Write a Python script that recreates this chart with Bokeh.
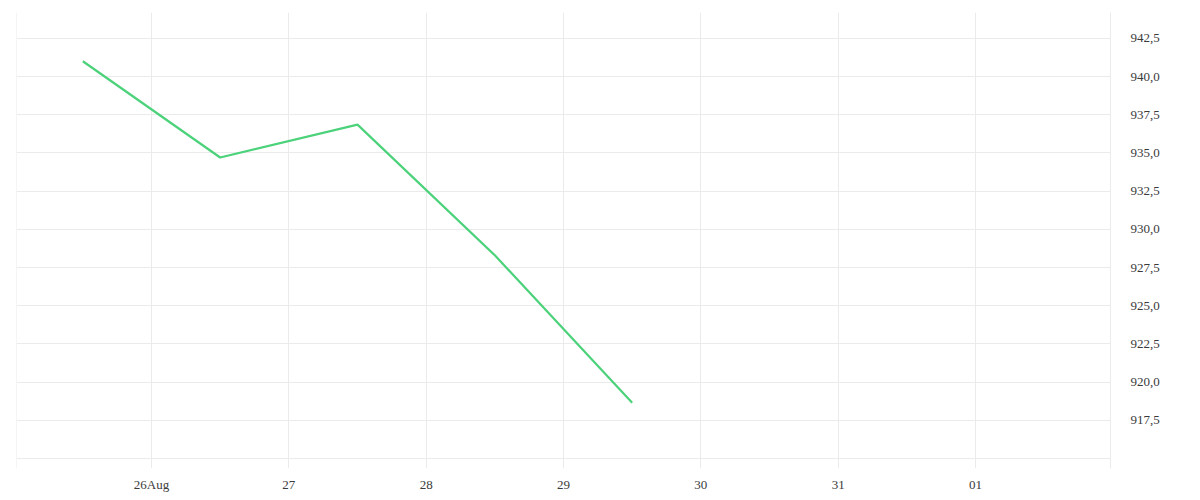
from datetime import datetime
from bokeh.plotting import figure
from bokeh.models import FixedTicker, Range1d, Span
from bokeh.embed import file_html
from bokeh.resources import INLINE

# ---- data ----
dates = ["2024-08-25 12:00", "2024-08-26 12:00", "2024-08-27 12:00",
         "2024-08-28 12:00", "2024-08-29 12:00"]
values = [941.0, 934.7, 936.85, 928.3, 918.65]

tick_dates = ["2024-08-26", "2024-08-27", "2024-08-28", "2024-08-29",
              "2024-08-30", "2024-08-31", "2024-09-01"]
tick_labels = ["26Aug", "27", "28", "29", "30", "31", "01"]

y_ticks = [915.0, 917.5, 920.0, 922.5, 925.0, 927.5, 930.0, 932.5, 935.0,
           937.5, 940.0, 942.5]
y_labels = ["", "917,5", "920,0", "922,5", "925,0", "927,5", "930,0",
            "932,5", "935,0", "937,5", "940,0", "942,5"]

EPOCH = datetime(1970, 1, 1)


def to_ms(s):
    fmt = "%Y-%m-%d %H:%M" if " " in s else "%Y-%m-%d"
    return (datetime.strptime(s, fmt) - EPOCH).total_seconds() * 1000.0


xs = [to_ms(d) for d in dates]
x_ticks = [to_ms(d) for d in tick_dates]
DAY = 86400000.0

x_start = x_ticks[0] - 0.983 * DAY
x_end = x_ticks[-1] + 0.983 * DAY

FONT = "Liberation Serif"
GRID = "#ebebeb"
TEXT = "#3a3a3a"

p = figure(width=1188, height=500, x_axis_type="datetime",
           y_axis_location="right", output_backend="svg",
           toolbar_location=None,
           x_range=Range1d(x_start, x_end),
           y_range=Range1d(914.35, 944.19),
           min_border_left=16, min_border_top=12,
           min_border_right=78, min_border_bottom=32)

p.outline_line_color = None
p.background_fill_color = "white"
p.border_fill_color = "white"

# x axis
p.xaxis.ticker = FixedTicker(ticks=x_ticks)
p.xaxis.major_label_overrides = {t: l for t, l in zip(x_ticks, tick_labels)}
p.xaxis.axis_line_color = None
p.xaxis.major_tick_line_color = None
p.xaxis.minor_tick_line_color = None
p.xaxis.major_label_standoff = 2
p.xaxis.major_label_text_font = FONT
p.xaxis.major_label_text_font_size = "13px"
p.xaxis.major_label_text_color = TEXT

# y axis
p.yaxis.ticker = FixedTicker(ticks=y_ticks)
p.yaxis.major_label_overrides = {t: l for t, l in zip(y_ticks, y_labels)}
p.yaxis.axis_line_color = GRID
p.yaxis.major_tick_line_color = None
p.yaxis.minor_tick_line_color = None
p.yaxis.major_label_standoff = 14
p.yaxis.major_label_text_font = FONT
p.yaxis.major_label_text_font_size = "13px"
p.yaxis.major_label_text_color = TEXT

# grid
p.xgrid.ticker = FixedTicker(ticks=x_ticks)
p.ygrid.ticker = FixedTicker(ticks=y_ticks)
p.xgrid.grid_line_color = GRID
p.ygrid.grid_line_color = GRID

p.add_layout(Span(location=x_start, dimension="height",
                  line_color=GRID, line_width=1))

p.line(xs, values, line_color="#4cd27a", line_width=2.2)

open("out.html", "w").write(file_html(p, INLINE))
